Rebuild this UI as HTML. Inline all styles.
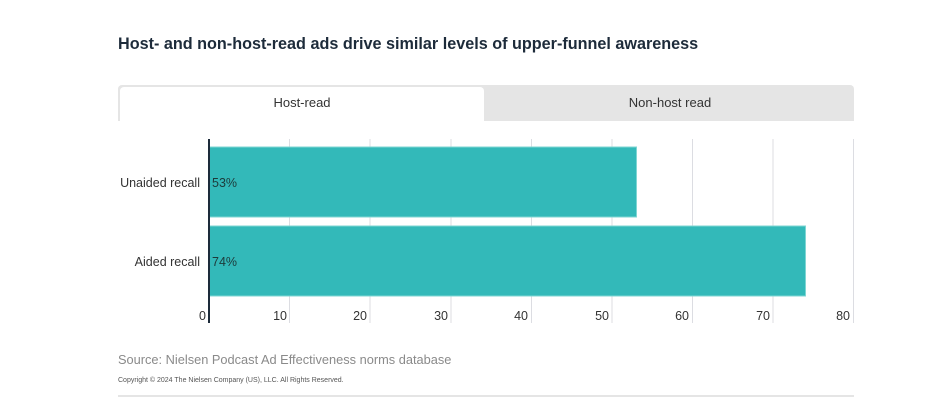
<!DOCTYPE html>
<html><head><style>
body{margin:0;background:#fff;width:940px;height:400px;position:relative;font-family:"Liberation Sans",sans-serif;overflow:hidden}
.a{position:absolute}
</style></head><body>
<div class="a" style="left:118px;top:35px;font-size:16.2px;font-weight:bold;color:#1d2b3a">Host- and non-host-read ads drive similar levels of upper-funnel awareness</div>
<div class="a" style="left:118px;top:85px;width:736px;height:36px;background:#e5e5e5;border-radius:4px 4px 0 0"></div>
<div class="a" style="left:120px;top:87px;width:364px;height:34px;background:#fff;border-radius:4px 4px 0 0"></div>
<div class="a" style="left:120px;top:95px;width:364px;text-align:center;font-size:13px;color:#333">Host-read</div>
<div class="a" style="left:486px;top:95px;width:368px;text-align:center;font-size:13px;color:#333">Non-host read</div>
<svg class="a" style="left:0;top:0" width="940" height="400">
<g stroke="#dcdde2" stroke-width="1">
<line x1="289.5" y1="139" x2="289.5" y2="323"/><line x1="370" y1="139" x2="370" y2="323"/>
<line x1="451" y1="139" x2="451" y2="323"/><line x1="531.5" y1="139" x2="531.5" y2="323"/>
<line x1="612" y1="139" x2="612" y2="323"/><line x1="692.5" y1="139" x2="692.5" y2="323"/>
<line x1="773" y1="139" x2="773" y2="323"/><line x1="853.5" y1="139" x2="853.5" y2="323"/>
</g>
<rect x="209" y="147" width="427.5" height="70" fill="#33b9b9" stroke="#7fd6d3" stroke-width="1"/>
<rect x="209" y="226" width="596.5" height="70" fill="#33b9b9" stroke="#7fd6d3" stroke-width="1"/>
<line x1="209" y1="139" x2="209" y2="323" stroke="#1d2b3a" stroke-width="2"/>
<g font-family="Liberation Sans" font-size="12.5" fill="#333">
<text x="200" y="187" text-anchor="end">Unaided recall</text>
<text x="200" y="266" text-anchor="end">Aided recall</text>
<text x="212" y="187" fill="#1d3a3a">53%</text>
<text x="212" y="266" fill="#1d3a3a">74%</text>
<g text-anchor="end">
<text x="206" y="320">0</text><text x="287" y="320">10</text><text x="367" y="320">20</text>
<text x="448" y="320">30</text><text x="528" y="320">40</text><text x="609" y="320">50</text>
<text x="689" y="320">60</text><text x="770" y="320">70</text><text x="850" y="320">80</text>
</g></g>
</svg>
<div class="a" style="left:118px;top:352px;font-size:12.8px;color:#8a8a8a">Source: Nielsen Podcast Ad Effectiveness norms database</div>
<div class="a" style="left:118px;top:377px;font-size:7px;color:#555">Copyright © 2024 The Nielsen Company (US), LLC. All Rights Reserved.</div>
<div class="a" style="left:118px;top:395px;width:736px;height:2px;background:#e5e5e5"></div>
</body></html>
